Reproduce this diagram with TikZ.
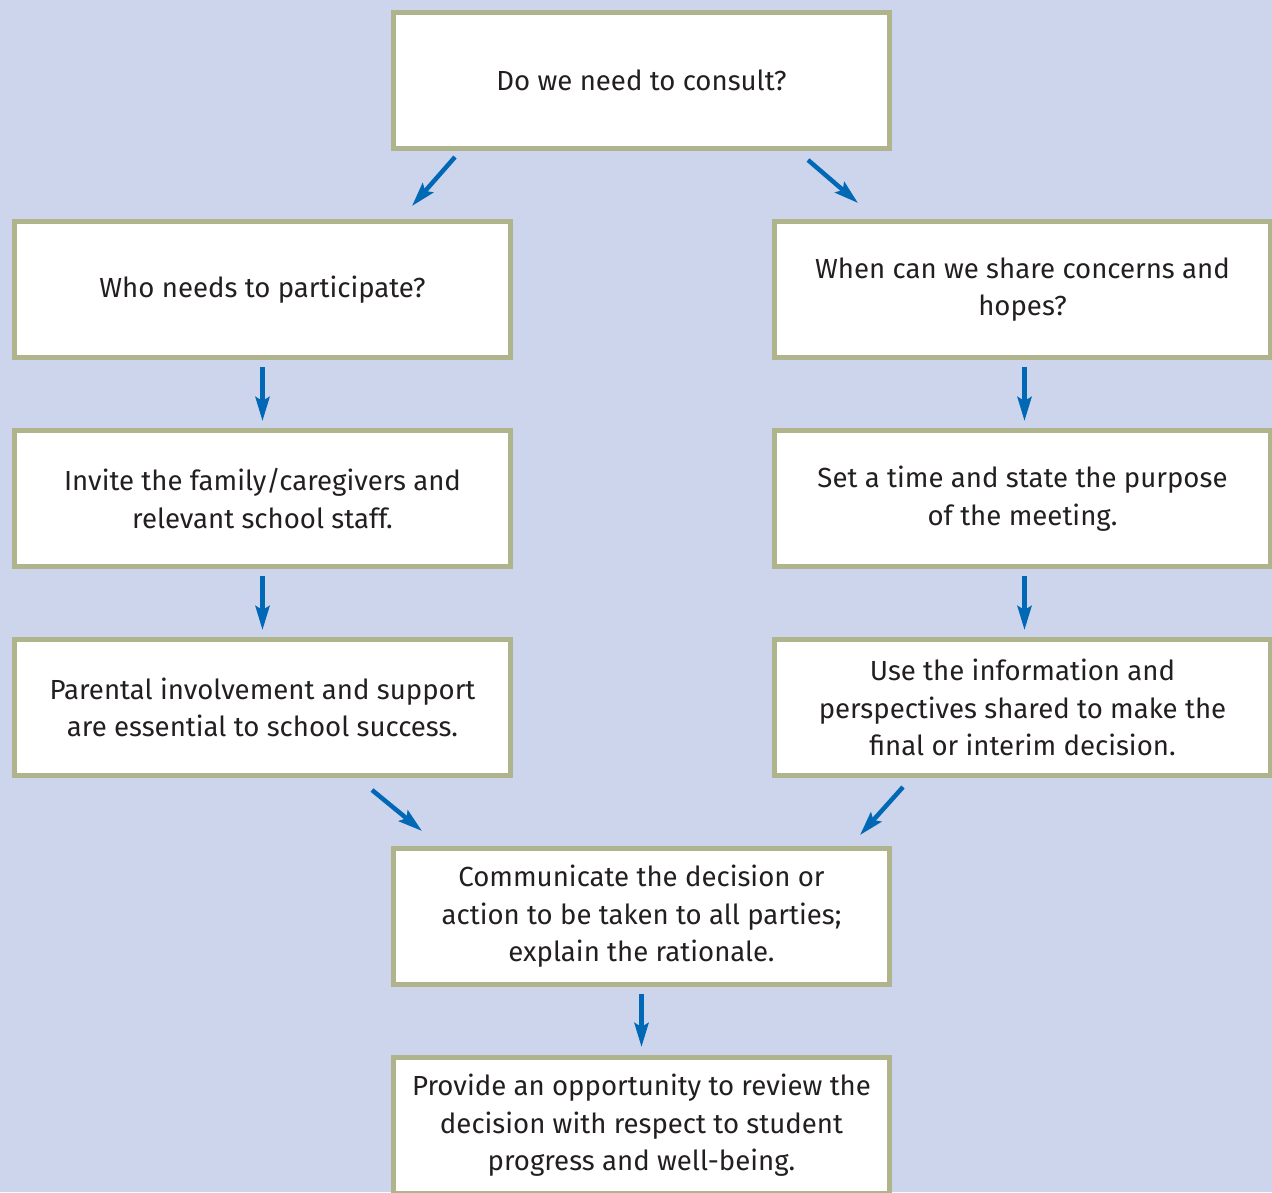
\documentclass[tikz,border=0pt]{standalone}
\usepackage{fontspec}
\setsansfont{Fira Sans}
\usepackage{tikz}
\usetikzlibrary{
	positioning,
	arrows.meta
}
\definecolor{paleblue}{HTML}{CDD5ED}
\definecolor{olive}{HTML}{B0B48C}
\definecolor{arrowblue}{HTML}{0068B4}
\definecolor{ink}{HTML}{231F20}

\begin{document}
\begin{tikzpicture}[x=1pt,y=-1pt,
		box/.style={draw=olive,fill=white,line width=5pt,minimum width=496pt,minimum height=136pt,
			inner sep=0pt,align=center,text=ink,
			font=\sffamily\fontsize{27.6}{37.5}\selectfont},
		flow/.style={draw=arrowblue,line width=4.5pt,
			-{Stealth[length=24pt,width=14pt,inset=4pt]}}
	]
		\fill[paleblue] (0,0) rectangle (1272,1192);
		\useasboundingbox (0,0) rectangle (1272,1192);

		% top
		\node[box] (consult) at (641.5,80.5) {Do we need to consult?};

		% left column
		\node[box] (who) at (262.5,289.5) {Who needs to participate?};
		\node[box] (invite) at (262.5,498.5) {Invite the family/caregivers and\\relevant school staff.};
		\node[box] (parent) at (262.5,707.5) {Parental involvement and support\\are essential to school success.};

		% right column
		\node[box] (when) at (1022.5,289.5) {When can we share concerns and\\hopes?};
		\node[box] (time) at (1022.5,498.5) {Set a time and state the purpose\\of the meeting.};
		\node[box] (use) at (1022.5,707.5) {Use the information and\\perspectives shared to make the\\final or interim decision.};

		% bottom
		\node[box] (tell) at (641.5,916.5) {Communicate the decision or\\action to be taken to all parties;\\explain the rationale.};
		\node[box] (review) at (641.5,1125.5) {Provide an opportunity to review the\\decision with respect to student\\progress and well-being.};

		\draw[flow] ([shift={(64,6)}]consult.south west) -- ([shift={(-101,-13)}]who.north east);
		\draw[flow] ([shift={(-84,9)}]consult.south east) -- ([shift={(86,-16)}]when.north west);

		\draw[flow] ([shift={(0,7)}]who.south) -- ([shift={(0,-7)}]invite.north);
		\draw[flow] ([shift={(0,7)}]invite.south) -- ([shift={(0,-7)}]parent.north);
		\draw[flow] ([shift={(2,7)}]when.south) -- ([shift={(2,-7)}]time.north);
		\draw[flow] ([shift={(2,7)}]time.south) -- ([shift={(2,-7)}]use.north);

		\draw[flow] ([shift={(-141,12)}]parent.south east) -- ([shift={(31,-15)}]tell.north west);
		\draw[flow] ([shift={(131,9)}]use.south west) -- ([shift={(-32,-11)}]tell.north east);
		\draw[flow] ([shift={(0,7)}]tell.south) -- ([shift={(0,-8)}]review.north);
	\end{tikzpicture}
\end{document}
